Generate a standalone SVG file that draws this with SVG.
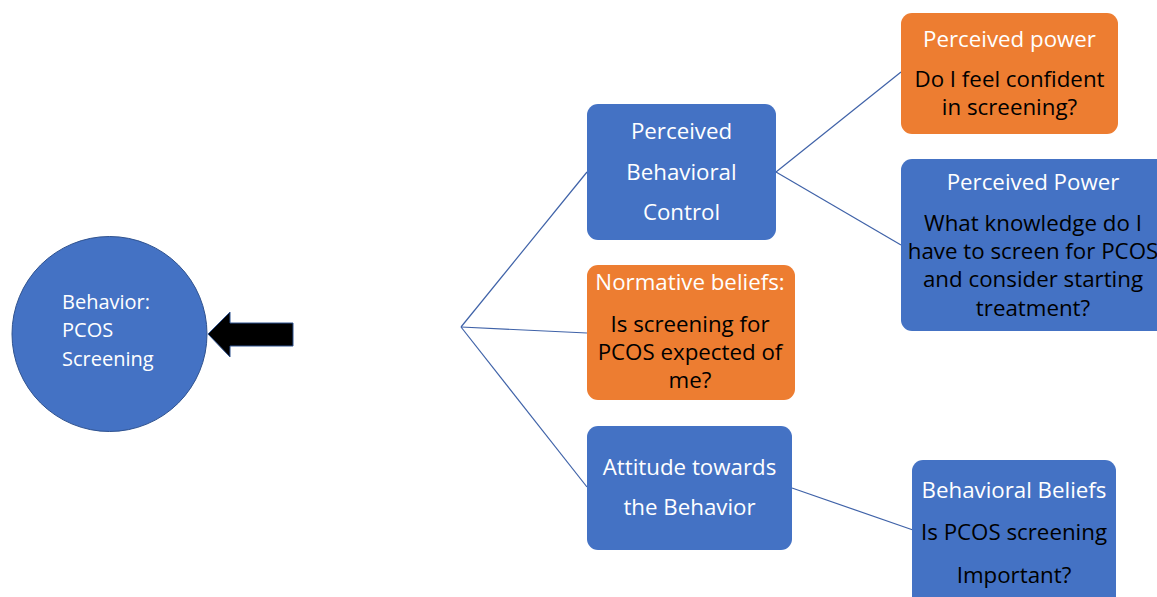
<svg xmlns="http://www.w3.org/2000/svg" width="1157" height="597" viewBox="0 0 1157 597">
  <style>
    .blue { fill: #4472C4; }
    .orange { fill: #ED7D31; }
    .link { stroke: #3F62A8; stroke-width: 1.2; fill: none; }
    text { font-family: "Open Sans", Lato, "Liberation Sans", sans-serif; font-size: 22.3px; }
    text.s { font-size: 20px; }
    .w { fill: #FFFFFF; }
    .k { fill: #000000; }
    .c { text-anchor: middle; }
  </style>

  <rect width="1157" height="597" fill="#FFFFFF"/>

  <!-- connectors -->
  <g id="connectors">
    <line class="link" x1="461" y1="327" x2="587" y2="172"/>
    <line class="link" x1="461" y1="327" x2="587" y2="333"/>
    <line class="link" x1="461" y1="327" x2="587" y2="487"/>
    <line class="link" x1="776" y1="172" x2="901" y2="72"/>
    <line class="link" x1="776" y1="172" x2="901" y2="245"/>
    <line class="link" x1="792" y1="488" x2="913" y2="530"/>
    <!-- block arrow pointing at the behaviour -->
    <polygon points="208,334 230,312 230,323 293,323 293,346 230,346 230,357" fill="#000000" stroke="#2F528F" stroke-width="1"/>
  </g>

  <g id="behavior">
    <ellipse class="blue" cx="109.5" cy="334" rx="97.5" ry="97.5" stroke="#2F528F" stroke-width="1"/>
    <text class="w s" x="62" y="309">Behavior:</text>
    <text class="w s" x="62" y="337">PCOS</text>
    <text class="w s" x="62" y="366">Screening</text>
  </g>

  <g id="perceived-behavioral-control">
    <rect class="blue" x="587" y="104" width="189" height="136" rx="11"/>
    <text class="w c" x="681.5" y="139">Perceived</text>
    <text class="w c" x="681.5" y="180">Behavioral</text>
    <text class="w c" x="681.5" y="220">Control</text>
  </g>

  <g id="normative-beliefs">
    <rect class="orange" x="587" y="265" width="208" height="135" rx="11"/>
    <text class="w c" x="690" y="290">Normative beliefs:</text>
    <text class="k c" x="690" y="332">Is screening for</text>
    <text class="k c" x="690" y="360">PCOS expected of</text>
    <text class="k c" x="690" y="388">me?</text>
  </g>

  <g id="attitude">
    <rect class="blue" x="587" y="426" width="205" height="124" rx="11"/>
    <text class="w c" x="689.5" y="475">Attitude towards</text>
    <text class="w c" x="689.5" y="515">the Behavior</text>
  </g>

  <g id="perceived-power-confidence">
    <rect class="orange" x="901" y="13" width="217" height="121" rx="11"/>
    <text class="w c" x="1009.5" y="47">Perceived power</text>
    <text class="k c" x="1009.5" y="87">Do I feel confident</text>
    <text class="k c" x="1009.5" y="115">in screening?</text>
  </g>

  <g id="perceived-power-knowledge">
    <rect class="blue" x="901" y="159" width="270" height="172" rx="11"/>
    <text class="w c" x="1033" y="190">Perceived Power</text>
    <text class="k c" x="1033" y="231">What knowledge do I</text>
    <text class="k c" x="1033" y="259">have to screen for PCOS</text>
    <text class="k c" x="1033" y="287">and consider starting</text>
    <text class="k c" x="1033" y="316">treatment?</text>
  </g>

  <g id="behavioral-beliefs">
    <rect class="blue" x="912" y="460" width="204" height="150" rx="11"/>
    <text class="w c" x="1014" y="498">Behavioral Beliefs</text>
    <text class="k c" x="1014" y="540">Is PCOS screening</text>
    <text class="k c" x="1014" y="583">Important?</text>
  </g>
</svg>
